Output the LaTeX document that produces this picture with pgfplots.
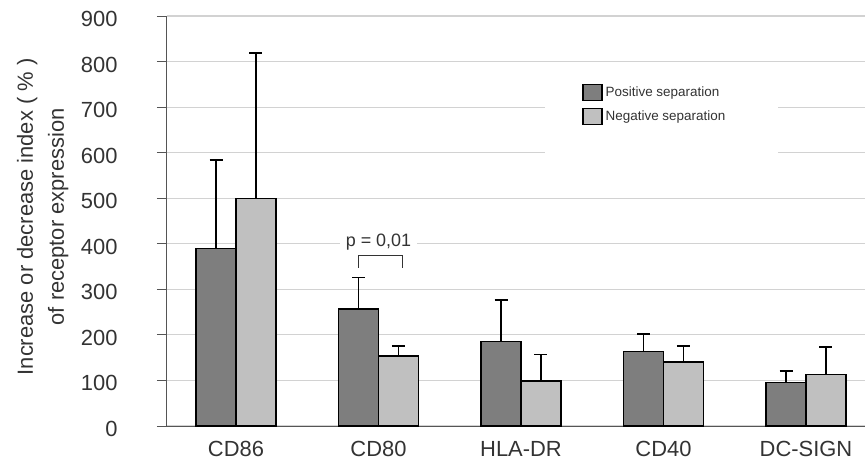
\documentclass[border=0pt]{standalone}
\usepackage{pgfplots}
\pgfplotsset{compat=1.18}
\usepackage{fontspec}
\setmainfont{Liberation Sans}
\definecolor{darkbar}{HTML}{7E7E7E}
\definecolor{lightbar}{HTML}{C0C0C0}
\definecolor{gridc}{HTML}{D2D2D2}
\definecolor{txt}{HTML}{333333}
\definecolor{axc}{HTML}{555555}
\begin{document}
\begin{tikzpicture}
\useasboundingbox (-167bp,-38bp) rectangle (698bp,426bp);
\begin{axis}[
  scale only axis,
  width=698bp, height=410bp,
  xmin=-0.484, xmax=4.414,
  ymin=0, ymax=900,
  ytick={0,100,...,900},
  xtick={0,1,2,3,4},
  xticklabels={CD86,CD80,HLA-DR,CD40,DC-SIGN},
  minor xtick={-0.5,0.5,1.5,2.5,3.5},
  xtick style={draw=none},
  minor x tick style={axc, line width=0.8pt},
  ytick style={axc, line width=0.8pt},
  major tick length=10bp,
  minor tick length=6bp,
  tick align=outside,
  axis x line*=bottom,
  axis y line*=left,
  axis line style={axc, line width=1pt, -},
  ymajorgrids,
  grid style={gridc, line width=1.2pt},
  ybar=0pt,
  bar width=0.28,
  /pgf/number format/assume math mode=true,
  tick label style={font=\fontsize{22}{25}\selectfont, text=txt},
  yticklabel style={xshift=-36bp, yshift=-3bp},
  xticklabel style={yshift=-2bp},
  ylabel={Increase or decrease index ( \% )\\of receptor expression},
  ylabel style={at={(axis description cs:-0.178,0.51)}, anchor=center, align=center, font=\fontsize{22}{31}\selectfont, text=txt},
  legend style={at={(axis cs:2.43,752)}, anchor=north west, draw=none, fill=none,
    font=\fontsize{13.5}{17}\selectfont, text=txt, inner sep=0pt, row sep=7bp,
    nodes={inner xsep=3bp}},
  legend cell align=left,
  legend image code/.code={\draw[#1, draw=black, line width=1.2pt] (0bp,-8bp) rectangle (19bp,8bp);},
  error bars/y dir=plus,
  error bars/y explicit,
  error bars/error bar style={black, line width=1.6pt},
  error bars/error mark options={rotate=90, black, line width=1.6pt, mark size=6.5bp},
]
\fill[white] (axis cs:2.17,785) rectangle (axis cs:3.80,515);
\addplot[fill=darkbar, draw=black, line width=1.5pt] coordinates {
  (0,390) +- (0,194)
  (1,257) +- (0,69)
  (2,185) +- (0,92)
  (3,163) +- (0,39)
  (4,96)  +- (0,25)
};
\addplot[fill=lightbar, draw=black, line width=1.5pt] coordinates {
  (0,499) +- (0,320)
  (1,154) +- (0,22)
  (2,99)  +- (0,58)
  (3,141) +- (0,35)
  (4,113) +- (0,61)
};
\legend{Positive separation,Negative separation}
\draw[txt, line width=1pt] (axis cs:0.86,347) -- (axis cs:0.86,374) -- (axis cs:1.17,374) -- (axis cs:1.17,347);
\node[fill=white, text=txt, font=\fontsize{18}{20}\selectfont, inner xsep=6bp, inner ysep=1bp] at (axis cs:1.0,404) {p = 0,01};
\end{axis}
\end{tikzpicture}
\end{document}
